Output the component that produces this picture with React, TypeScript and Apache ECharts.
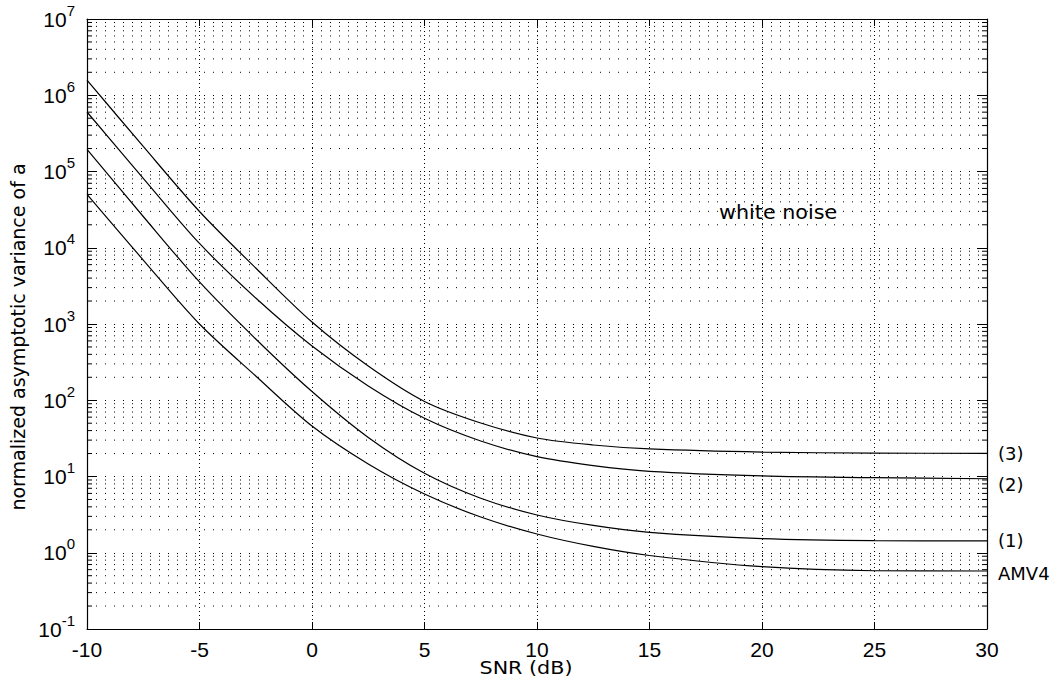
import { useEffect, useRef } from "react";
import * as echarts from "echarts";

const snrDb = [-10, -7.5, -5, -2.5, 0, 2.5, 5, 7.5, 10, 12.5, 15, 20, 25, 30];
const curve3 = [1.58e6, 2.13e5, 2.99e4, 5.42e3, 1.06e3, 281, 96.4, 50.3, 32.0, 25.9, 23.0, 20.9, 20.3, 20.1];
const curve2 = [6.03e5, 8.15e4, 1.14e4, 2.19e3, 514, 154, 58.0, 29.2, 18.2, 13.9, 11.7, 10.2, 9.64, 9.35];
const curve1 = [1.95e5, 2.57e4, 3.56e3, 636, 130, 32.5, 11.0, 5.18, 3.13, 2.28, 1.85, 1.53, 1.44, 1.43];
const amv4 = [5.02e4, 6.9e3, 1.0e3, 208, 45.9, 14.6, 5.89, 2.94, 1.76, 1.21, 0.92, 0.656, 0.581, 0.576];
const curveNames = ["(3)", "(2)", "(1)", "AMV4"];
const labelOffsets = [0, 6, 0, 2];
const xTicks = { min: -10, max: 30, interval: 5 };
const yRange = { min: 0.1, max: 1e7 };
const minorMantissas = [2, 3, 4, 5, 6, 7, 8, 9];
const decades = [-1, 0, 1, 2, 3, 4, 5, 6];
const annotation = "white noise";
const xTitle = "SNR (dB)";
const yTitle = "normalized asymptotic variance of a";

const FONT = "DejaVu Sans";
const TICKFONT = "Liberation Sans";

export default function App() {
  const ref = useRef<HTMLDivElement>(null);
  useEffect(() => {
    if (!ref.current) return;
    const chart = echarts.init(ref.current, undefined, { renderer: "svg" });
    const minorVals: number[] = [];
    decades.forEach((d) => minorMantissas.forEach((m) => minorVals.push(m * Math.pow(10, d))));
    const allCurves = [curve3, curve2, curve1, amv4];
    const lineSeries = allCurves.map((vals, k) => ({
      type: "line",
      name: curveNames[k],
      data: snrDb.map((x, i) => [x, vals[i]]),
      smooth: 0.3,
      showSymbol: false,
      symbol: "none",
      lineStyle: { color: "#000", width: 1.2 },
      itemStyle: { color: "#000" },
      z: 5,
      endLabel: {
        show: true,
        formatter: curveNames[k],
        color: "#000",
        fontFamily: FONT,
        fontSize: 18,
        distance: 11,
        offset: [0, labelOffsets[k]],
      },
    }));
    const option: any = {
      animation: false,
      backgroundColor: "#fff",
      grid: { left: 87, right: 72, top: 19, bottom: 60 },
      xAxis: [
        {
          type: "value",
          min: xTicks.min,
          max: xTicks.max,
          interval: xTicks.interval,
          axisLine: { onZero: false, lineStyle: { color: "#000", width: 1.2 } },
          axisTick: { inside: true, length: 7, lineStyle: { color: "#000" } },
          axisLabel: { color: "#000", fontFamily: TICKFONT, fontSize: 21, margin: 10 },
          splitLine: { show: true, lineStyle: { color: "#000", type: [1, 3], width: 1 } },
        },
        {
          type: "value",
          position: "top",
          min: xTicks.min,
          max: xTicks.max,
          interval: xTicks.interval,
          axisLine: { show: true, onZero: false, lineStyle: { color: "#000", width: 1.2 } },
          axisTick: { show: true, inside: true, length: 7, lineStyle: { color: "#000" } },
          axisLabel: { show: false },
          splitLine: { show: false },
        },
      ],
      yAxis: [
        {
          type: "log",
          logBase: 10,
          min: yRange.min,
          max: yRange.max,
          splitNumber: 8,
          axisLine: { show: true, onZero: false, lineStyle: { color: "#000", width: 1.2 } },
          axisTick: { show: true, inside: true, length: 10, lineStyle: { color: "#000" } },
          axisLabel: {
            color: "#000",
            margin: 12,
            formatter: (v: number) => `{b|10}{s|${Math.round(Math.log10(v))}}`,
            rich: {
              b: { fontFamily: TICKFONT, fontSize: 21, color: "#000" },
              s: { fontFamily: TICKFONT, fontSize: 15, color: "#000", padding: [0, 0, 18, 0] },
            },
          },
          splitLine: { show: true, lineStyle: { color: "#000", type: [1, 8], width: 1 } },
        },
        {
          type: "log",
          logBase: 10,
          position: "right",
          min: yRange.min,
          max: yRange.max,
          splitNumber: 8,
          axisLine: { show: true, onZero: false, lineStyle: { color: "#000", width: 1.2 } },
          axisTick: { show: true, inside: true, length: 10, lineStyle: { color: "#000" } },
          axisLabel: { show: false },
          splitLine: { show: false },
        },
      ],
      graphic: [
        {
          type: "text",
          x: 719,
          y: 213,
          scaleX: 1.09,
          style: { text: annotation, fill: "#000", font: `19px "${FONT}"`, textVerticalAlign: "middle" },
        },
        {
          type: "text",
          x: 526,
          y: 668,
          scaleX: 1.15,
          style: {
            text: xTitle,
            fill: "#000",
            font: `18px "${FONT}"`,
            textAlign: "center",
            textVerticalAlign: "middle",
          },
        },
        {
          type: "text",
          x: 18,
          y: 337,
          rotation: Math.PI / 2,
          style: {
            text: yTitle,
            fill: "#000",
            font: `19px "${FONT}"`,
            textAlign: "center",
            textVerticalAlign: "middle",
          },
        },
      ],
      series: [
        {
          type: "custom",
          silent: true,
          z: 1,
          clip: true,
          data: minorVals.map((v) => [xTicks.min, v]),
          renderItem: (_params: any, api: any) => {
            const v = api.value(1);
            const l = api.coord([xTicks.min, v]);
            const r = api.coord([xTicks.max, v]);
            return {
              type: "group",
              children: [
                {
                  type: "line",
                  shape: { x1: l[0], y1: l[1], x2: r[0], y2: r[1] },
                  style: { stroke: "#000", lineWidth: 1, lineDash: [1, 8] },
                },
                {
                  type: "line",
                  shape: { x1: l[0], y1: l[1], x2: l[0] + 5, y2: l[1] },
                  style: { stroke: "#000", lineWidth: 1 },
                },
                {
                  type: "line",
                  shape: { x1: r[0] - 5, y1: r[1], x2: r[0], y2: r[1] },
                  style: { stroke: "#000", lineWidth: 1 },
                },
              ],
            };
          },
        },
        ...lineSeries,
      ],
    };
    chart.setOption(option);
    return () => chart.dispose();
  }, []);
  return <div ref={ref} style={{ width: 1059, height: 689, position: "absolute", left: 0, top: 0 }} />;
}
